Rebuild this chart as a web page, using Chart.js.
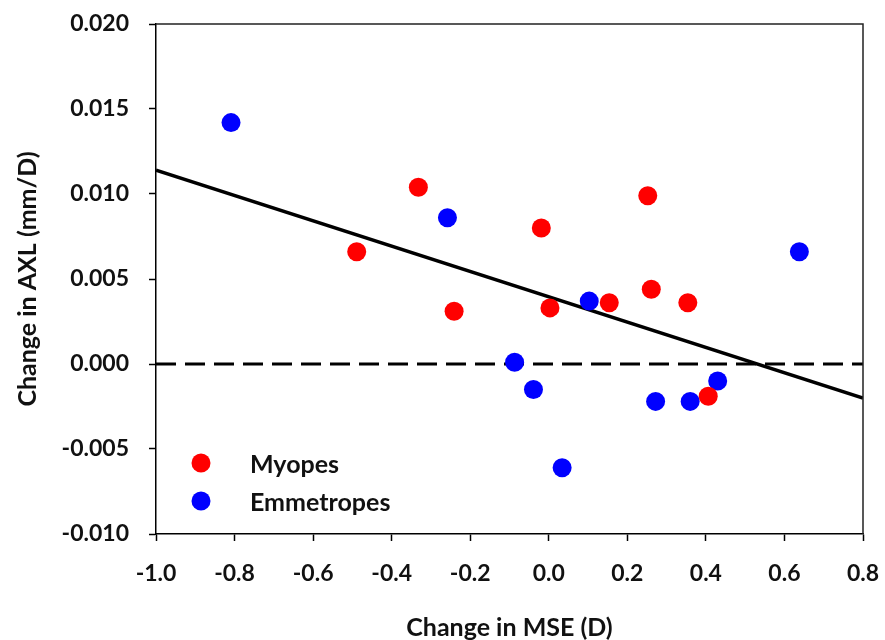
<!DOCTYPE html>
<html>
<head>
<meta charset="utf-8">
<script src="https://cdn.jsdelivr.net/npm/chart.js@4.4.1/dist/chart.umd.min.js"></script>
<style>
  html, body { margin: 0; padding: 0; background: #fff; }
  #wrap { width: 885px; height: 640px; }
</style>
</head>
<body>
<div id="wrap"><canvas id="c" width="885" height="640"></canvas></div>
<script>
// Change in MSE (D) vs change in axial length (mm/D)
const myopesX = [-0.489, -0.332, -0.241, -0.019, 0.003, 0.154, 0.252, 0.261, 0.354, 0.406];
const myopesY = [0.0066, 0.0104, 0.0031, 0.0080, 0.0033, 0.0036, 0.0099, 0.0044, 0.0036, -0.0019];
const emmetropesX = [-0.809, -0.258, -0.087, -0.039, 0.034, 0.103, 0.272, 0.360, 0.430, 0.638];
const emmetropesY = [0.0142, 0.0086, 0.0001, -0.0015, -0.0061, 0.0037, -0.0022, -0.0022, -0.0010, 0.0066];
// regression line end points
const fitX = [-1.0, 0.8];
const fitY = [0.0114, -0.0020];
// zero reference line
const zeroX = [-1.0, 0.8];
const zeroY = [0, 0];

const xTicks = [-1.0, -0.8, -0.6, -0.4, -0.2, 0.0, 0.2, 0.4, 0.6, 0.8];
const yTicks = [-0.010, -0.005, 0.000, 0.005, 0.010, 0.015, 0.020];

const pts = (xs, ys) => xs.map((x, i) => ({ x: x, y: ys[i] }));

const FONT = 'Lato, "Open Sans", sans-serif';

// frame on top/right and an inset legend
const framePlugin = {
  id: 'frameAndLegend',
  afterDatasetsDraw(chart) {
    const { ctx, chartArea: a } = chart;
    ctx.save();
    ctx.strokeStyle = '#222';
    ctx.lineWidth = 1.5;
    ctx.beginPath();
    ctx.moveTo(a.left, a.top);
    ctx.lineTo(a.right, a.top);
    ctx.lineTo(a.right, a.bottom);
    ctx.stroke();

    const items = chart.data.datasets.filter(d => d.inLegend);
    const mx = 201, my0 = 463, gap = 38;
    items.forEach((d, i) => {
      const y = my0 + i * gap;
      ctx.fillStyle = d.backgroundColor;
      ctx.beginPath();
      ctx.arc(mx, y, 9.5, 0, Math.PI * 2);
      ctx.fill();
      ctx.fillStyle = '#111';
      ctx.font = 'bold 25px ' + FONT;
      ctx.textBaseline = 'middle';
      ctx.textAlign = 'left';
      ctx.fillText(d.label, 250, y + 2);
    });
    ctx.restore();
  }
};

new Chart(document.getElementById('c'), {
  type: 'scatter',
  data: {
    datasets: [
      {
        label: 'Myopes', inLegend: true, order: 0,
        data: pts(myopesX, myopesY),
        backgroundColor: '#ff0000', borderWidth: 0,
        pointRadius: 9.5, pointHoverRadius: 9.5
      },
      {
        label: 'Emmetropes', inLegend: true, order: 0,
        data: pts(emmetropesX, emmetropesY),
        backgroundColor: '#0000ff', borderWidth: 0,
        pointRadius: 9.5, pointHoverRadius: 9.5
      },
      {
        label: 'fit', type: 'line', order: 1,
        data: pts(fitX, fitY),
        borderColor: '#000', borderWidth: 3.5, pointRadius: 0, fill: false
      },
      {
        label: 'zero', type: 'line', order: 1,
        data: pts(zeroX, zeroY),
        borderColor: '#000', borderWidth: 3, borderDash: [20, 9],
        pointRadius: 0, fill: false
      }
    ]
  },
  options: {
    responsive: false,
    animation: false,
    layout: { padding: { left: 0, top: 24, right: 22, bottom: 0 } },
    plugins: { legend: { display: false }, tooltip: { enabled: false } },
    scales: {
      x: {
        type: 'linear', min: -1.0, max: 0.8,
        afterBuildTicks: s => { s.ticks = xTicks.map(v => ({ value: v })); },
        afterFit: s => { s.height = 106; s.paddingLeft = 0; s.paddingRight = 0; },
        grid: { drawOnChartArea: false, tickLength: 7, tickColor: '#000', tickWidth: 1.5 },
        border: { display: true, color: '#000', width: 1.5 },
        ticks: {
          padding: 19, color: '#111',
          font: { family: FONT, size: 23, weight: 'bold' },
          callback: v => v.toFixed(1), maxRotation: 0
        },
        title: {
          display: true, text: 'Change in MSE (D)', color: '#111',
          font: { family: FONT, size: 25, weight: 'bold', lineHeight: 1.0 },
          padding: { top: 0, bottom: 0 }
        }
      },
      y: {
        type: 'linear', min: -0.010, max: 0.020,
        afterBuildTicks: s => { s.ticks = yTicks.map(v => ({ value: v })); },
        afterFit: s => { s.width = 156; s.paddingTop = 0; s.paddingBottom = 0; },
        grid: { drawOnChartArea: false, tickLength: 7, tickColor: '#000', tickWidth: 1.5 },
        border: { display: true, color: '#000', width: 1.5 },
        ticks: {
          padding: 20, color: '#111',
          font: { family: FONT, size: 23, weight: 'bold' },
          callback: v => v.toFixed(3)
        },
        title: {
          display: true, text: 'Change in AXL (mm/D)', color: '#111',
          font: { family: FONT, size: 25, weight: 'bold' },
          padding: { top: 13, bottom: 0 }
        }
      }
    }
  },
  plugins: [framePlugin]
});
</script>
</body>
</html>
